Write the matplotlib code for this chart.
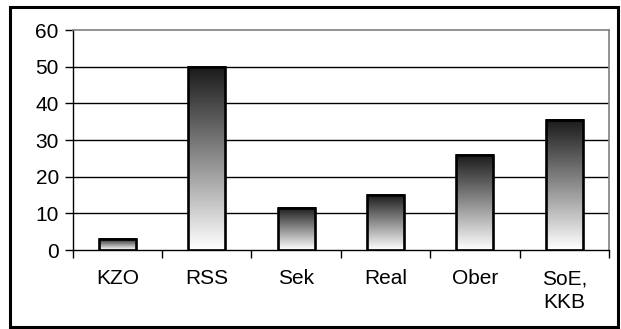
import numpy as np
import matplotlib
matplotlib.use("Agg")
import matplotlib.pyplot as plt
from matplotlib.patches import Rectangle

plt.rcParams['font.family'] = ['Liberation Sans', 'DejaVu Sans']

# Anteile je Schulart
categories = ["KZO", "RSS", "Sek", "Real", "Ober", "SoE,\nKKB"]
values = [3, 50, 11.5, 15, 26, 35.5]
yticks = [0, 10, 20, 30, 40, 50, 60]

fig = plt.figure(figsize=(6.21, 3.29), dpi=100)
fig.patch.set_facecolor("white")

# Rahmen um das ganze Diagramm
fig.patches.append(Rectangle((10 / 621, 2 / 329), 608 / 621, 320 / 329,
                             transform=fig.transFigure, fill=False,
                             edgecolor="black", linewidth=2.2))

ax = fig.add_axes([0.1171, 0.2401, 0.8636, 0.6687])
x = np.arange(len(categories))
width = 0.414

# Verlauf: oben dunkel, unten weiss
grad = np.linspace(0.1, 1.0, 256).reshape(-1, 1)
for xi, v in zip(x, values):
    ax.imshow(grad, cmap="gray", vmin=0, vmax=1, aspect="auto",
              extent=(xi - width / 2, xi + width / 2, 0, v), zorder=3,
              interpolation="bilinear")
ax.bar(x, values, width=width, facecolor="none", edgecolor="black",
       linewidth=1.9, zorder=4)

ax.set_xlim(-0.5, len(categories) - 0.5)
ax.set_ylim(0, 60)
ax.set_yticks(yticks)
ax.set_yticklabels([str(t) for t in yticks], fontsize=15)

# Kategorienachse: Striche zwischen den Gruppen
ax.set_xticks(np.arange(-0.5, len(categories)), minor=False)
ax.set_xticklabels([])
ax.set_xticks(x, minor=True)
ax.set_xticklabels(categories, minor=True, fontsize=15, linespacing=1.3,
                   va="top")
ax.tick_params(axis="x", which="minor", length=0, pad=14)
ax.tick_params(axis="x", which="major", length=6, width=1, color="black",
               direction="out")
ax.tick_params(axis="y", length=6, width=1, color="black", direction="out",
               pad=4)

for t in yticks[1:-1]:
    ax.axhline(t, color="black", linewidth=1, zorder=1)

ax.spines["left"].set_color("black")
ax.spines["bottom"].set_color("black")
ax.spines["left"].set_linewidth(1)
ax.spines["bottom"].set_linewidth(1)
ax.spines["top"].set_color("#808080")
ax.spines["right"].set_color("#808080")
ax.spines["top"].set_linewidth(1.2)
ax.spines["right"].set_linewidth(1.2)
for s in ax.spines.values():
    s.set_zorder(5)

fig.savefig("out.png", dpi=100)
